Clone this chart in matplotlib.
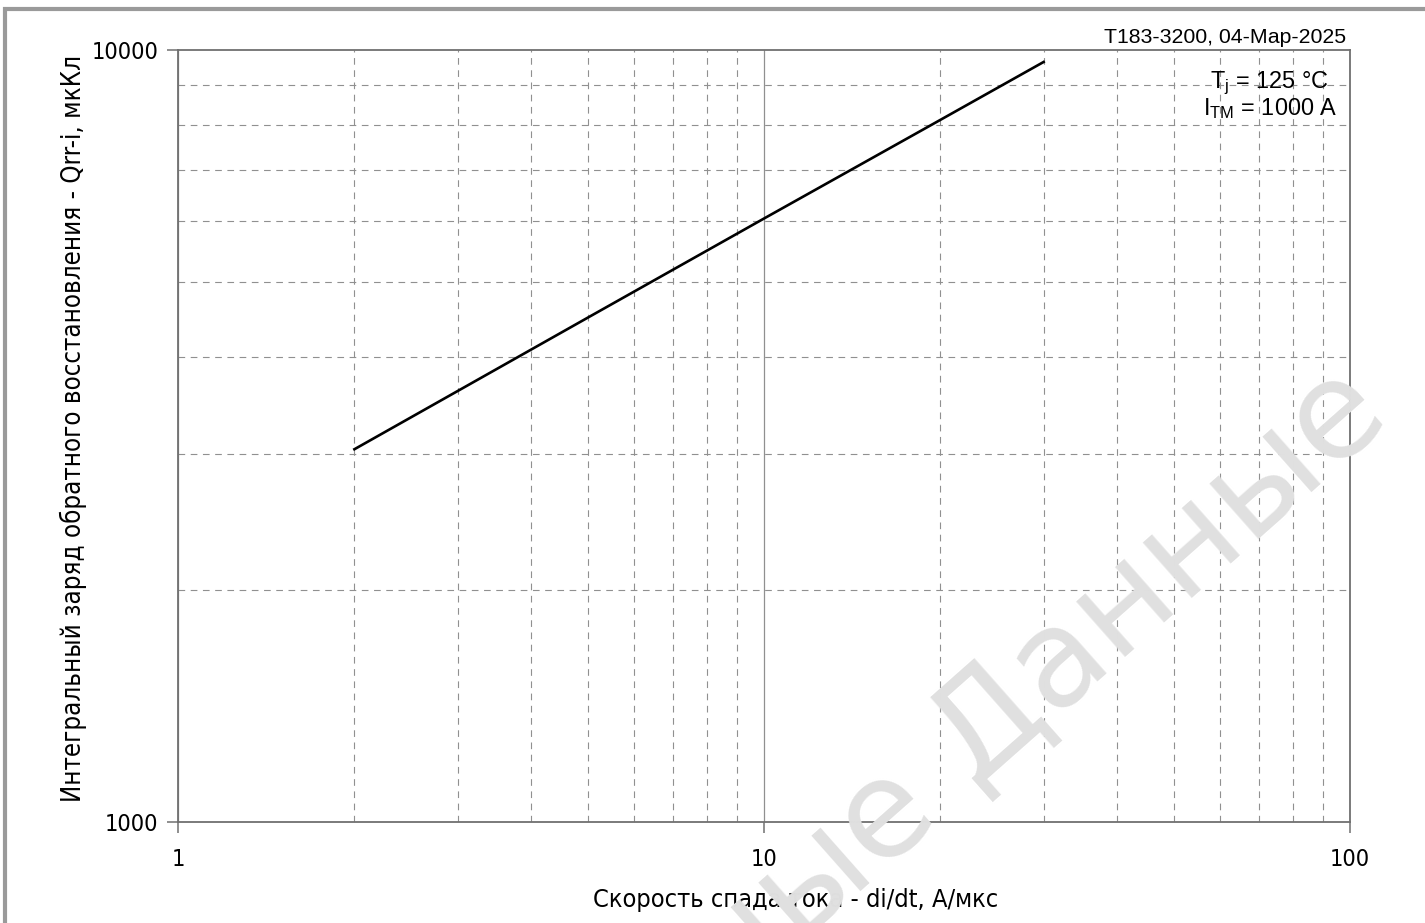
import matplotlib
matplotlib.use("Agg")

import matplotlib.pyplot as plt
from matplotlib.patches import Rectangle
from matplotlib.ticker import LogLocator, FixedLocator, NullFormatter

# di/dt, A/us  vs  Qrr-i, uC
didt = [2, 5, 10, 20, 30]
qrr = [3040, 4500, 6050, 8120, 9650]

x_ticks = [1, 10, 100]
x_labels = ["1", "10", "100"]
y_ticks = [1000, 10000]
y_labels = ["1000", "10000"]

plt.rcParams["mathtext.fontset"] = "custom"
plt.rcParams["mathtext.rm"] = "Liberation Sans"

fig = plt.figure(figsize=(14.25, 9.23), dpi=100)
ax = fig.add_axes([0.1249, 0.1094, 0.8225, 0.8364])

ax.set_xscale("log")
ax.set_yscale("log")
ax.set_xlim(1, 100)
ax.set_ylim(1000, 10000)

ax.plot(didt, qrr, color="black", linewidth=1.9, zorder=3)

gray = "#707070"
ax.xaxis.set_major_locator(FixedLocator(x_ticks))
ax.yaxis.set_major_locator(FixedLocator(y_ticks))
ax.set_xticklabels(x_labels)
ax.set_yticklabels(y_labels)
ax.xaxis.set_minor_locator(LogLocator(base=10, subs=range(2, 10)))
ax.yaxis.set_minor_locator(LogLocator(base=10, subs=range(2, 10)))
ax.xaxis.set_minor_formatter(NullFormatter())
ax.yaxis.set_minor_formatter(NullFormatter())

ax.grid(True, which="major", axis="x", color="#909090", linewidth=0.9, linestyle="-")
ax.grid(True, which="minor", color="#909090", linewidth=0.8, linestyle=(0, (6, 5)))

ax.tick_params(which="major", direction="out", length=8, width=1.1, color=gray,
               labelsize=16.8)
ax.tick_params(axis="x", which="major", pad=11)
ax.tick_params(axis="y", which="major", pad=6)
ax.tick_params(which="minor", length=0)
for lab in ax.get_xticklabels() + ax.get_yticklabels():
    lab.set_fontfamily("DejaVu Sans")
    lab.set_fontstretch("condensed")

for sp in ax.spines.values():
    sp.set_color(gray)
    sp.set_linewidth(1.3)

ax.set_xlabel("Скорость спада тока - di/dt, А/мкс", fontsize=18.2,
              fontfamily="DejaVu Sans", fontstretch="condensed")
ax.set_ylabel("Интегральный заряд обратного восстановления - Qrr-i, мкКл", fontsize=18.5,
              fontfamily="DejaVu Sans", fontstretch="condensed")
ax.xaxis.set_label_coords(0.527, -0.085)
ax.yaxis.set_label_coords(-0.078, 0.51)

fig.text(0.945, 0.953, "T183-3200, 04-Мар-2025", ha="right", va="baseline",
         fontsize=15.3, fontfamily="Liberation Sans")
ax.text(0.982, 0.974, r"$\mathregular{T_j}$ = 125 °C", transform=ax.transAxes,
        ha="right", va="top", fontsize=16.9, fontfamily="Liberation Sans")
ax.text(0.9895, 0.94, r"$\mathregular{I_{TM}}$ = 1000 A", transform=ax.transAxes,
        ha="right", va="top", fontsize=16.9, fontfamily="Liberation Sans")

# watermark
fig.text(1368 / 1425, 1 - 392 / 923, "Справочные Данные", rotation=41.5,
         rotation_mode="anchor", ha="right", va="center", fontsize=98,
         color="#e0e0e0", fontfamily="DejaVu Sans", zorder=10)

# outer frame (left and top edges visible)
fig.patches.append(Rectangle((5 / 1425, -0.05), 1.1, 1.05 - 9 / 923,
                             transform=fig.transFigure, fill=False,
                             edgecolor="#9a9a9a", linewidth=3))

fig.savefig("out.png", dpi=100)
plt.close(fig)
